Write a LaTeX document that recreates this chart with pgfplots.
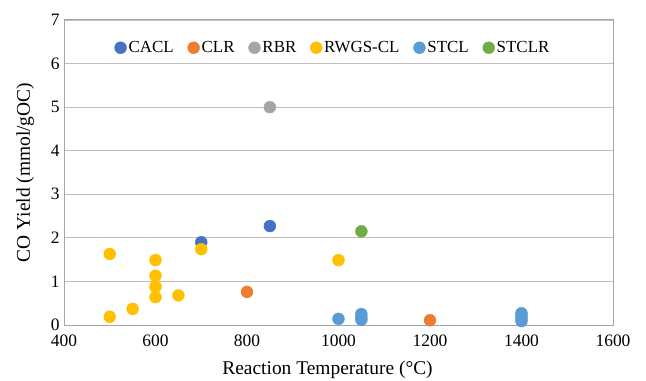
\documentclass[border=0pt]{standalone}
\usepackage{pgfplots}
\pgfplotsset{compat=1.18}
\usepackage{fontspec}
\setmainfont{Liberation Serif}
\definecolor{cacl}{HTML}{4472C4}
\definecolor{clr}{HTML}{ED7D31}
\definecolor{rbr}{HTML}{A5A5A5}
\definecolor{rwgs}{HTML}{FFC000}
\definecolor{stcl}{HTML}{5B9BD5}
\definecolor{stclr}{HTML}{70AD47}
\definecolor{axgray}{HTML}{A6A6A6}
\definecolor{gridgray}{HTML}{BFBFBF}
\begin{document}
\begin{tikzpicture}
\path[use as bounding box] (-64bp,-56bp) rectangle (582bp,325bp);
\begin{axis}[
  at={(0,0)}, anchor=south west,
  scale only axis, width=549bp, height=305bp,
  xmin=400, xmax=1600, ymin=0, ymax=7,
  xtick={400,600,...,1600}, ytick={0,1,...,7},
  /pgf/number format/assume math mode=true,
  /pgf/number format/1000 sep={},
  tick label style={font=\fontsize{17.5}{19}\selectfont},
  xticklabel style={yshift=-6pt},
  yticklabel style={xshift=-1pt},
  major tick length=0pt,
  ymajorgrids, grid style={gridgray, line width=0.8pt},
  axis line style={axgray, line width=1pt},
  xlabel={Reaction Temperature (°C)},
  ylabel={CO Yield (mmol/gOC)},
  label style={font=\fontsize{19.5}{21}\selectfont},
  xlabel style={at={(ticklabel cs:0.48)}, yshift=-8pt},
  ylabel style={yshift=10pt},
  legend columns=6,
  legend style={draw=none, fill=none, at={(axis description cs:0.49,0.909)}, anchor=center,
    font=\fontsize{17}{19}\selectfont, /tikz/every even column/.append style={column sep=12pt},
    inner sep=0pt},
  legend image code/.code={\draw[#1] (0pt,0pt) plot coordinates {(0.1cm,0cm)};},
  legend cell align=left,
  every axis plot/.append style={only marks, mark=*, mark size=6pt},
]
\addplot[cacl, mark options={fill=cacl, draw=cacl}] coordinates {(700,1.90) (850,2.27)};
\addlegendentry{CACL}
\addplot[clr, mark options={fill=clr, draw=clr}] coordinates {(800,0.76) (1200,0.11)};
\addlegendentry{CLR}
\addplot[rbr, mark options={fill=rbr, draw=rbr}] coordinates {(850,5.0)};
\addlegendentry{RBR}
\addplot[rwgs, mark options={fill=rwgs, draw=rwgs}] coordinates {
(500,1.63) (500,0.19) (550,0.37) (600,1.49) (600,1.13) (600,0.88) (600,0.64) (650,0.68) (700,1.74) (1000,1.49)};
\addlegendentry{RWGS-CL}
\addplot[stcl, mark options={fill=stcl, draw=stcl}] coordinates {
(1000,0.14) (1050,0.25) (1050,0.18) (1050,0.12) (1400,0.27) (1400,0.21) (1400,0.15) (1400,0.09)};
\addlegendentry{STCL}
\addplot[stclr, mark options={fill=stclr, draw=stclr}] coordinates {(1050,2.15)};
\addlegendentry{STCLR}
\end{axis}
\end{tikzpicture}
\end{document}
